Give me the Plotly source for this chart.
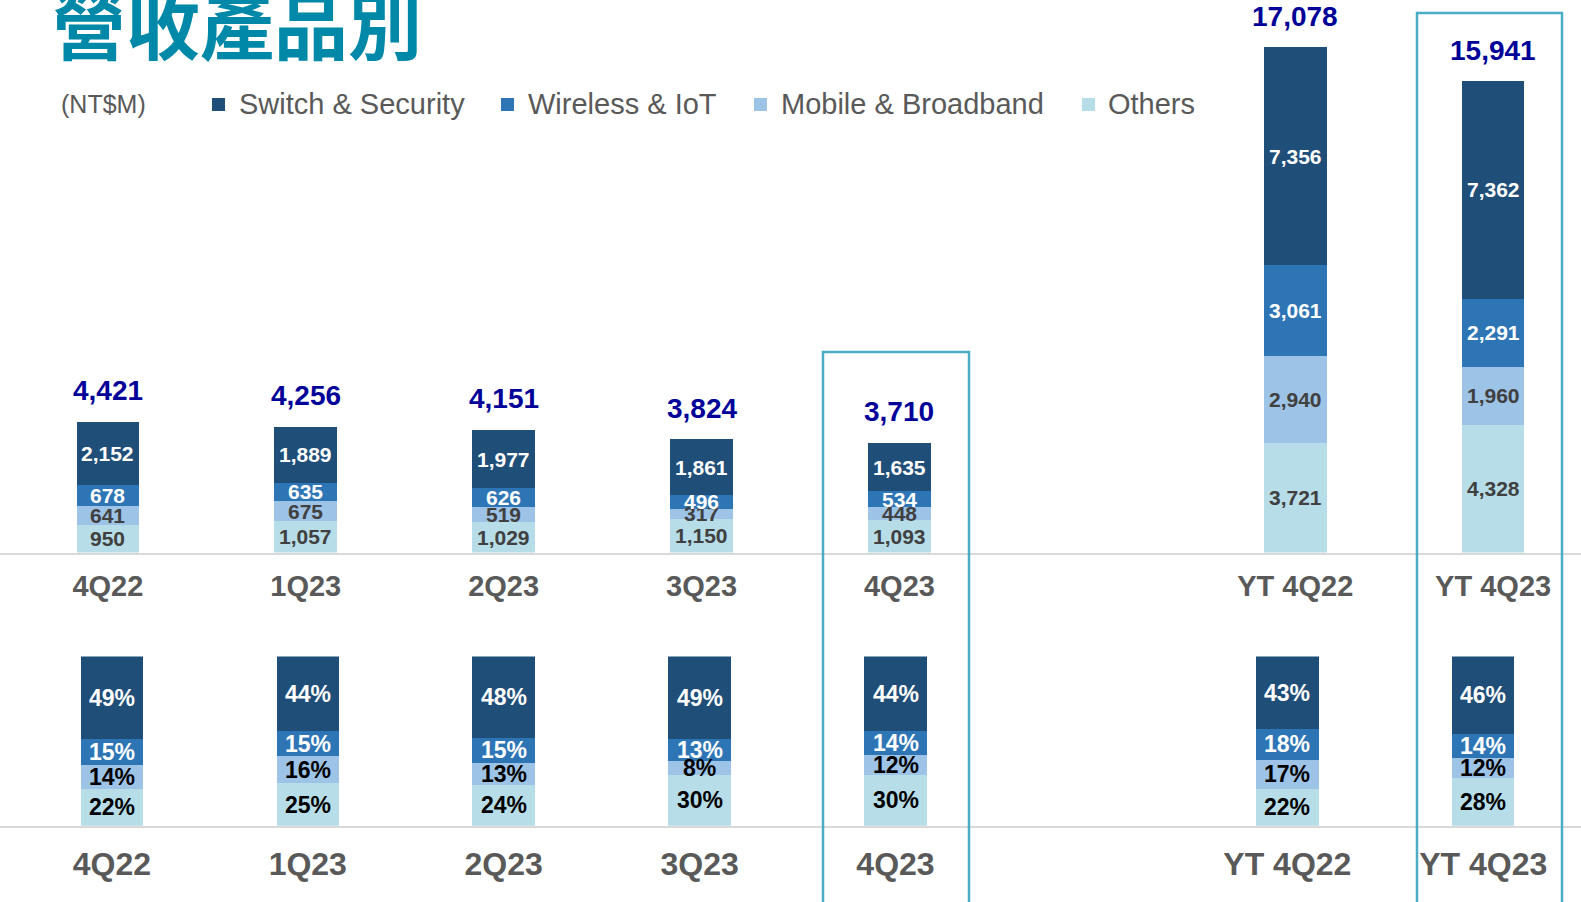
import plotly.graph_objects as go

# ---------------- data ----------------
categories = ["4Q22", "1Q23", "2Q23", "3Q23", "4Q23", "YT 4Q22", "YT 4Q23"]
axis_order = ["4Q22", "1Q23", "2Q23", "3Q23", "4Q23", " ", "YT 4Q22", "YT 4Q23"]
series_names = ["Switch & Security", "Wireless & IoT", "Mobile & Broadband", "Others"]

switch_security = [2152, 1889, 1977, 1861, 1635, 7356, 7362]
wireless_iot = [678, 635, 626, 496, 534, 3061, 2291]
mobile_broadband = [641, 675, 519, 317, 448, 2940, 1960]
others = [950, 1057, 1029, 1150, 1093, 3721, 4328]
totals = [4421, 4256, 4151, 3824, 3710, 17078, 15941]

pct_switch = [49, 44, 48, 49, 44, 43, 46]
pct_wireless = [15, 15, 15, 13, 14, 18, 14]
pct_mobile = [14, 16, 13, 8, 12, 17, 12]
pct_others = [22, 25, 24, 30, 30, 22, 28]

title_text = "營收產品別"
unit_text = "(NT$M)"

# ---------------- style ----------------
W, H = 1581, 902
colors = {
    "Switch & Security": "#1F4E79",
    "Wireless & IoT": "#2E75B6",
    "Mobile & Broadband": "#9DC3E6",
    "Others": "#B6DDE8",
}
top_text_colors = {
    "Switch & Security": "#FFFFFF",
    "Wireless & IoT": "#FFFFFF",
    "Mobile & Broadband": "#404040",
    "Others": "#404040",
}
bot_text_colors = {
    "Switch & Security": "#FFFFFF",
    "Wireless & IoT": "#FFFFFF",
    "Mobile & Broadband": "#000000",
    "Others": "#000000",
}
FONT = "Liberation Sans, Arial, sans-serif"
GRAY = "#595959"
TOTAL_BLUE = "#000099"
BOX = "#4BACC6"


def px_x(p):
    return p / W


def px_y(p):
    return 1 - p / H


amounts = {
    "Others": others,
    "Mobile & Broadband": mobile_broadband,
    "Wireless & IoT": wireless_iot,
    "Switch & Security": switch_security,
}
shares = {
    "Others": pct_others,
    "Mobile & Broadband": pct_mobile,
    "Wireless & IoT": pct_wireless,
    "Switch & Security": pct_switch,
}
stack_order = ["Others", "Mobile & Broadband", "Wireless & IoT", "Switch & Security"]

fig = go.Figure()
annotations = []

# top chart: amounts
base = [0] * len(categories)
for name in stack_order:
    vals = amounts[name]
    fig.add_trace(go.Bar(
        x=categories, y=vals, name=name, xaxis="x", yaxis="y",
        marker=dict(color=colors[name], line=dict(width=0)),
        width=0.316, showlegend=False, hoverinfo="skip",
    ))
    for i, c in enumerate(categories):
        annotations.append(dict(
            x=c, y=base[i] + vals[i] / 2, xref="x", yref="y",
            text=f"{vals[i]:,}", showarrow=False,
            font=dict(family=FONT, size=21, color=top_text_colors[name], weight="bold"),
        ))
    base = [b + v for b, v in zip(base, vals)]

for i, c in enumerate(categories):
    annotations.append(dict(
        x=c, y=totals[i], xref="x", yref="y", yanchor="middle", yshift=31,
        text=f"{totals[i]:,}", showarrow=False,
        font=dict(family=FONT, size=28, color=TOTAL_BLUE, weight="bold"),
    ))

# bottom chart: shares
base = [0] * len(categories)
for name in stack_order:
    vals = shares[name]
    fig.add_trace(go.Bar(
        x=categories, y=vals, name=name, xaxis="x2", yaxis="y2",
        marker=dict(color=colors[name], line=dict(width=0)),
        width=0.319, showlegend=False, hoverinfo="skip",
    ))
    for i, c in enumerate(categories):
        annotations.append(dict(
            x=c, y=base[i] + vals[i] / 2, xref="x2", yref="y2",
            text=f"{vals[i]}%", showarrow=False,
            font=dict(family=FONT, size=23, color=bot_text_colors[name], weight="bold"),
        ))
    base = [b + v for b, v in zip(base, vals)]

# title and unit
annotations.append(dict(
    x=px_x(50), y=px_y(21), xref="paper", yref="paper", xanchor="left", yanchor="middle",
    text=title_text, showarrow=False,
    font=dict(family="Noto Sans CJK TC", size=74, color="#0088A8", weight="bold"),
))
annotations.append(dict(
    x=px_x(59), y=px_y(104), xref="paper", yref="paper", xanchor="left", yanchor="middle",
    text=unit_text, showarrow=False, font=dict(family=FONT, size=25, color=GRAY),
))

# manual legend
legend_square_x = [212, 501, 754, 1082]
legend_text_x = [237, 526, 779, 1106]
shapes = []
for name, sx, tx in zip(series_names, legend_square_x, legend_text_x):
    shapes.append(dict(
        type="rect", xref="paper", yref="paper",
        x0=px_x(sx), x1=px_x(sx + 13), y0=px_y(111), y1=px_y(98),
        fillcolor=colors[name], line=dict(width=0),
    ))
    annotations.append(dict(
        x=px_x(tx), y=px_y(104), xref="paper", yref="paper", xanchor="left", yanchor="middle",
        text=name, showarrow=False, font=dict(family=FONT, size=29, color=GRAY),
    ))

# highlight boxes
for x0, x1, y0 in [(823, 969, 352), (1417, 1562, 13)]:
    shapes.append(dict(
        type="rect", xref="paper", yref="paper",
        x0=px_x(x0), x1=px_x(x1), y0=-0.02, y1=px_y(y0),
        line=dict(color=BOX, width=2.5), fillcolor="rgba(0,0,0,0)", layer="above",
    ))

axis_common = dict(
    type="category", categoryorder="array", categoryarray=axis_order,
    showline=True, linecolor="#D9D9D9", linewidth=2, ticks="",
    showgrid=False, zeroline=False, fixedrange=True,
)

fig.update_layout(
    width=W, height=H,
    margin=dict(l=0, r=0, t=0, b=0),
    paper_bgcolor="white", plot_bgcolor="white",
    barmode="stack",
    showlegend=False,
    xaxis=dict(**axis_common, domain=[0, 1], anchor="y", range=[-0.545, 7.444],
               tickfont=dict(family=FONT, size=29, color=GRAY, weight="bold"),
               ticklabelstandoff=7),
    yaxis=dict(domain=[px_y(552.6), 1], range=[0, 18680], visible=False, fixedrange=True),
    xaxis2=dict(**axis_common, domain=[0, 1], anchor="y2", range=[-0.571, 7.499],
                tickfont=dict(family=FONT, size=32, color=GRAY, weight="bold"),
                ticklabelstandoff=9),
    yaxis2=dict(domain=[px_y(825.8), px_y(656.4)], range=[0, 100], visible=False, fixedrange=True),
    annotations=annotations,
    shapes=shapes,
)

fig.write_html(
    "out.html",
    config={"displayModeBar": False},
    post_script="document.body.style.margin='0';document.body.style.overflow='hidden';",
)
